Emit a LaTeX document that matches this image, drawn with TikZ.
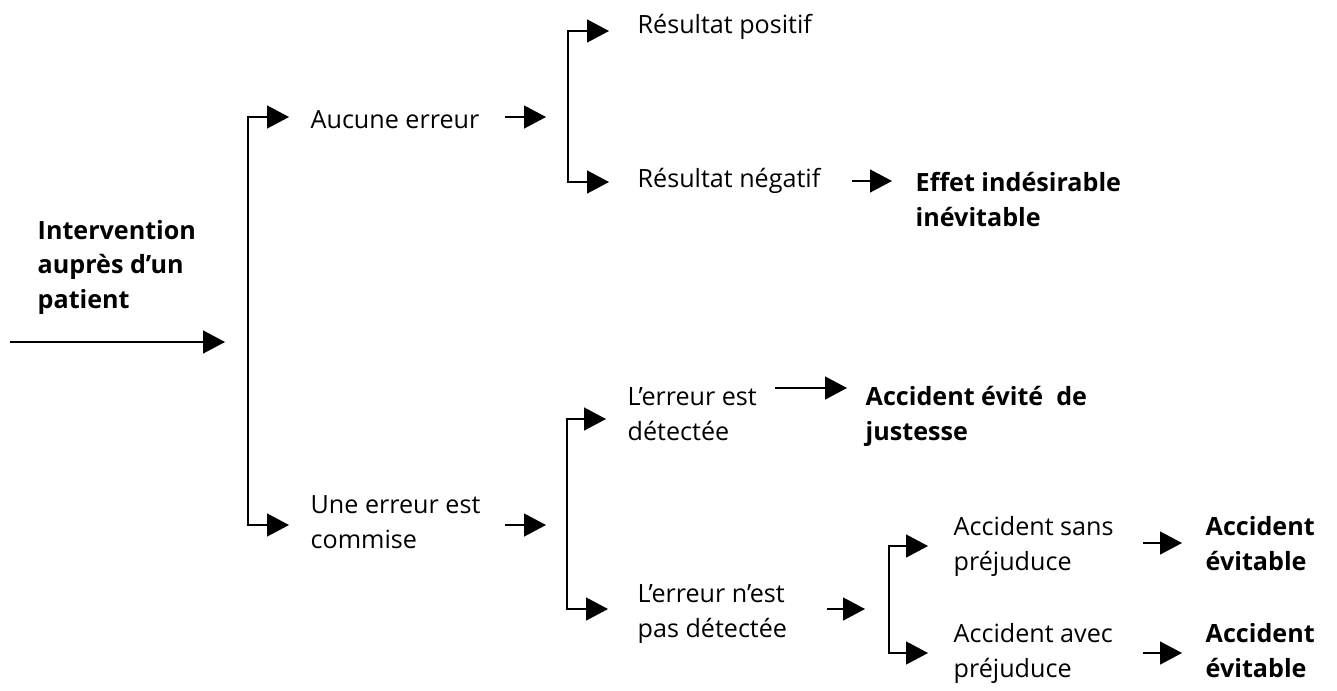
\documentclass[tikz,border=0pt]{standalone}
\usepackage{fontspec}
\setmainfont{Open Sans}
\usepackage{tikz}
\usetikzlibrary{arrows.meta}

\begin{document}
\begin{tikzpicture}[x=0.02cm, y=-0.02cm, line width=0.8pt,
        >={Triangle[length=0.44cm, width=0.46cm]},
        choice/.style={anchor=base west, inner sep=0pt, align=left,
            font=\fontsize{14.3}{19.6}\selectfont},
        result/.style={choice, font=\fontsize{14.3}{19.6}\selectfont\bfseries}]
        \useasboundingbox (0,0) rectangle (1337,690);
        %texts (anchored at the baseline of the last line)
        \node[result] (patient) at (37,308) {Intervention\\auprès d’un\\patient};
        \node[choice] (aucune) at (310,128) {Aucune erreur};
        \node[choice] (positif) at (637,33) {Résultat positif};
        \node[choice] (negatif) at (637,187) {Résultat négatif};
        \node[result] (effet) at (915,226) {Effet indésirable\\inévitable};
        \node[choice] (commise) at (310,548) {Une erreur est\\commise};
        \node[choice] (detectee) at (627,440) {L’erreur est\\détectée};
        \node[result] (justesse) at (865,440) {Accident évité\ \ de\\justesse};
        \node[choice] (nondetectee) at (637,637) {L’erreur n’est\\pas détectée};
        \node[choice] (sans) at (953,570) {Accident sans\\préjuduce};
        \node[choice] (avec) at (953,677) {Accident avec\\préjuduce};
        \node[result] (evitable1) at (1205,570) {Accident\\évitable};
        \node[result] (evitable2) at (1205,677) {Accident\\évitable};
        %points
        \coordinate (in0) at (10,342);
        \coordinate (in1) at (225,342);
        \coordinate (a0) at (248,117);
        \coordinate (a1) at (289,117);
        \coordinate (b0) at (248,525);
        \coordinate (b1) at (289,525);
        \coordinate (c0) at (505,117);
        \coordinate (c1) at (546,117);
        \coordinate (d0) at (568,31);
        \coordinate (d1) at (609,31);
        \coordinate (e0) at (568,182);
        \coordinate (e1) at (609,182);
        \coordinate (f0) at (852,181);
        \coordinate (f1) at (892,181);
        \coordinate (g0) at (505,525);
        \coordinate (g1) at (546,525);
        \coordinate (h0) at (567,419);
        \coordinate (h1) at (606,419);
        \coordinate (i0) at (567,609);
        \coordinate (i1) at (608,609);
        \coordinate (j0) at (775,388);
        \coordinate (j1) at (847,388);
        \coordinate (k0) at (827,609);
        \coordinate (k1) at (865,609);
        \coordinate (l0) at (889,546);
        \coordinate (l1) at (928,546);
        \coordinate (m0) at (889,653);
        \coordinate (m1) at (928,653);
        \coordinate (n0) at (1143,543);
        \coordinate (n1) at (1182,543);
        \coordinate (o0) at (1143,653);
        \coordinate (o1) at (1182,653);
        %array
        \draw[->] (in0) -- (in1);
        \draw[->] (b0) -- (a0) -- (a1);
        \draw[->] (a0) -- (b0) -- (b1);
        \draw[->] (c0) -- (c1);
        \draw[->] (e0) -- (d0) -- (d1);
        \draw[->] (d0) -- (e0) -- (e1);
        \draw[->] (f0) -- (f1);
        \draw[->] (g0) -- (g1);
        \draw[->] (i0) -- (h0) -- (h1);
        \draw[->] (h0) -- (i0) -- (i1);
        \draw[->] (j0) -- (j1);
        \draw[->] (k0) -- (k1);
        \draw[->] (m0) -- (l0) -- (l1);
        \draw[->] (l0) -- (m0) -- (m1);
        \draw[->] (n0) -- (n1);
        \draw[->] (o0) -- (o1);
\end{tikzpicture}
\end{document}
